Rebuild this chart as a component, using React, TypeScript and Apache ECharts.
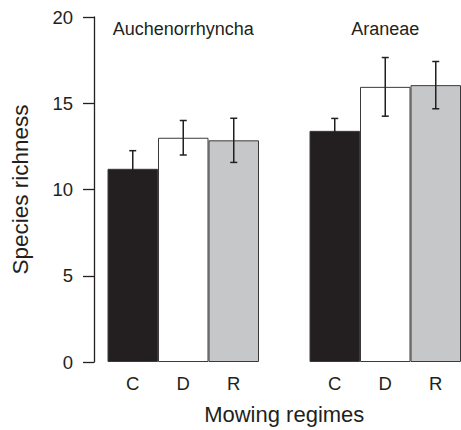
import React, { useEffect, useRef } from "react";
import * as echarts from "echarts";

const groupNames = ["Auchenorrhyncha", "Araneae"];
const regimes = ["C", "D", "R"];
const auchMeans = [11.2, 13.0, 12.85];
const auchErr = [1.05, 1.0, 1.28];
const araMeans = [13.4, 15.95, 16.05];
const araErr = [0.72, 1.7, 1.37];
const regimeColors = ["#231f20", "#ffffff", "#c6c7c9"];
const yTicks = [0, 5, 10, 15, 20];

const FONT = "'Liberation Sans', Arial, Helvetica, sans-serif";
const INK = "#231f20";

export default function App() {
  const ref = useRef<HTMLDivElement>(null);
  useEffect(() => {
    if (!ref.current) return;
    const chart = echarts.init(ref.current, undefined, { renderer: "svg" });
    const categories = [...regimes, "", ...regimes];
    const allMeans: any[] = [...auchMeans, "-", ...araMeans];
    const allErr: any[] = [...auchErr, null, ...araErr];
    const barData = allMeans.map((v, i) =>
      v === "-"
        ? "-"
        : {
            value: v,
            itemStyle: { color: regimeColors[i > 3 ? i - 4 : i] },
          }
    );
    const errData = allMeans
      .map((v, i) => (v === "-" ? null : [i, v, allErr[i]]))
      .filter((d) => d !== null);

    chart.setOption({
      animation: false,
      textStyle: { fontFamily: FONT, color: INK },
      grid: { left: 107.5, width: 354, top: 17, bottom: 68 },
      xAxis: {
        type: "category",
        data: categories,
        axisLine: { show: false },
        axisTick: { show: false },
        axisLabel: { fontSize: 18.5, color: INK, margin: 12, fontFamily: FONT },
        name: "Mowing regimes",
        nameLocation: "middle",
        nameGap: 41,
        nameTextStyle: { fontSize: 22, color: INK, fontFamily: FONT },
      },
      yAxis: {
        type: "value",
        min: yTicks[0],
        max: yTicks[yTicks.length - 1],
        interval: 5,
        offset: 13.5,
        axisLine: { show: true, lineStyle: { color: INK, width: 1.3 } },
        axisTick: { show: true, length: 11, lineStyle: { color: INK, width: 1.3 } },
        axisLabel: { fontSize: 18.5, color: INK, margin: 21, fontFamily: FONT },
        splitLine: { show: false },
        name: "Species richness",
        nameLocation: "middle",
        nameGap: 62,
        nameTextStyle: { fontSize: 22.5, color: INK, fontFamily: FONT },
      },
      series: [
        {
          type: "bar",
          data: barData,
          barWidth: "100%",
          itemStyle: { borderColor: "#3a3a3a", borderWidth: 1 },
        },
        {
          type: "custom",
          data: errData,
          z: 5,
          renderItem: (params: any, api: any) => {
            const x = api.value(0);
            const m = api.value(1);
            const e = api.value(2);
            const top = api.coord([x, m + e]);
            const bot = api.coord([x, m - e]);
            const hw = 3.5;
            const style = { stroke: INK, lineWidth: 1.5 };
            return {
              type: "group",
              children: [
                { type: "line", shape: { x1: top[0], y1: top[1], x2: bot[0], y2: bot[1] }, style },
                { type: "line", shape: { x1: top[0] - hw, y1: top[1], x2: top[0] + hw, y2: top[1] }, style },
                { type: "line", shape: { x1: bot[0] - hw, y1: bot[1], x2: bot[0] + hw, y2: bot[1] }, style },
              ],
            };
          },
        },
      ],
    });

    const px1 = chart.convertToPixel({ xAxisIndex: 0 }, 1) as number;
    const px2 = chart.convertToPixel({ xAxisIndex: 0 }, 5) as number;
    chart.setOption({
      graphic: groupNames.map((name, i) => ({
        type: "text",
        x: i === 0 ? px1 : px2,
        y: 29,
        style: {
          text: name,
          fontSize: 18,
          fontFamily: FONT,
          fill: INK,
          align: "center",
          verticalAlign: "middle",
        },
      })),
    });

    return () => chart.dispose();
  }, []);
  return (
    <div
      ref={ref}
      style={{ position: "absolute", left: 0, top: 0, width: 461, height: 430 }}
    />
  );
}
